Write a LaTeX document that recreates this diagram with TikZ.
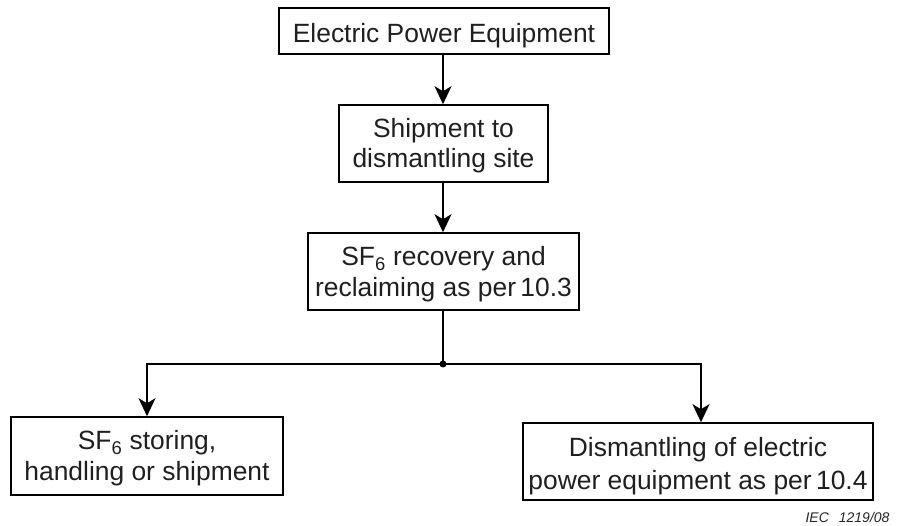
\documentclass[tikz,border=0pt]{standalone}
\usepackage{fontspec}
\setmainfont{Liberation Sans}
\usetikzlibrary{arrows.meta}
\begin{document}
\begin{tikzpicture}[x=1pt,y=-1pt,
  stepbox/.style={draw=black,line width=1.6pt,inner sep=0pt},
  boxtext/.style={inner sep=0pt,align=center,text=black!88},
  conn/.style={line width=1.6pt,-{Stealth[length=18pt,width=17pt,inset=5pt]}},
  plain/.style={line width=1.6pt}]
\useasboundingbox (0,0) rectangle (903,526);
\node[stepbox,minimum width=330pt,minimum height=46pt] (b1) at (444,31) {};
\node[stepbox,minimum width=209pt,minimum height=77pt] (b2) at (443.5,143.5) {};
\node[stepbox,minimum width=271pt,minimum height=77pt] (b3) at (443.5,271.5) {};
\node[stepbox,minimum width=272pt,minimum height=78pt] (b4) at (147,456) {};
\node[stepbox,minimum width=350pt,minimum height=77pt] (b5) at (698,461.5) {};
\node[boxtext,font=\fontsize{26.4}{30}\selectfont,yshift=-4.5pt] (t1) at (b1) {Electric Power Equipment};
\node[boxtext,font=\fontsize{26.4}{30}\selectfont,yshift=-2.5pt] (t2) at (b2) {Shipment to\\dismantling site};
\node[boxtext,font=\fontsize{26.4}{31}\selectfont,yshift=-3pt] (t3) at (b3) {SF\textsubscript{6} recovery and\\reclaiming as per\,10.3};
\node[boxtext,font=\fontsize{26.4}{31}\selectfont,yshift=-2.5pt] (t4) at (b4) {SF\textsubscript{6} storing,\\handling or shipment};
\node[boxtext,font=\fontsize{26.4}{33}\selectfont,yshift=-5pt] (t5) at (b5) {Dismantling of electric\\power equipment as per\,10.4};
\coordinate (j) at (443,364);
\coordinate (jl) at (147,364);
\coordinate (jr) at (701,364);
\draw[conn] (b1.south -| j) -- (b2.north -| j);
\draw[conn] (b2.south -| j) -- (b3.north -| j);
\draw[plain] (b3.south -| j) -- (j);
\draw[conn] (j) -- (jl) -- (b4.north -| jl);
\draw[conn] (j) -- (jr) -- (b5.north -| jr);
\fill (j) circle (3.5pt);
\node[font=\fontsize{14}{16}\selectfont\itshape,anchor=base east,text=black!85] (lbl) at (893,522) {IEC\hspace{10pt}1219/08};
\end{tikzpicture}
\end{document}
